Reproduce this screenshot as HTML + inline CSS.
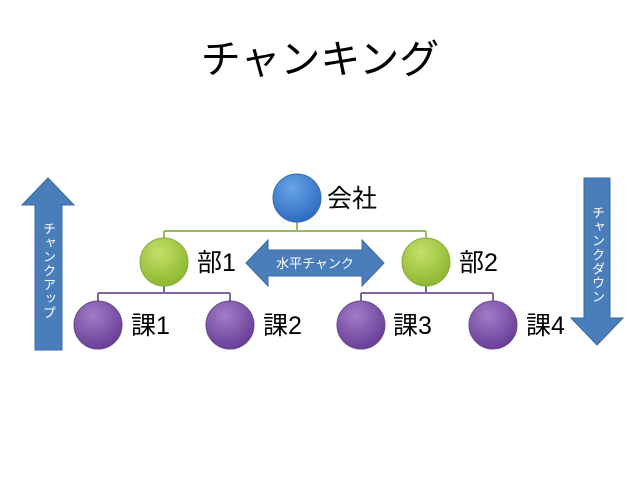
<!DOCTYPE html>
<html><head><meta charset="utf-8"><style>
body{margin:0;width:640px;height:480px;background:#fff;overflow:hidden;font-family:"Liberation Sans","Noto Sans CJK JP",sans-serif;position:relative;}
.v{position:absolute;writing-mode:vertical-rl;color:#fff;font-size:13px;line-height:14px;letter-spacing:1px;}
</style></head><body>
<svg width="640" height="480" xmlns="http://www.w3.org/2000/svg" style="position:absolute;left:0;top:0;font-family:'Liberation Sans','Noto Sans CJK JP',sans-serif">
<defs>
<radialGradient id="b" cx="0.4" cy="0.3" r="0.7"><stop offset="0" stop-color="#6aa4e6"/><stop offset="1" stop-color="#2d6cc0"/></radialGradient>
<radialGradient id="g" cx="0.4" cy="0.3" r="0.7"><stop offset="0" stop-color="#c4e06a"/><stop offset="1" stop-color="#8db830"/></radialGradient>
<radialGradient id="p" cx="0.4" cy="0.3" r="0.7"><stop offset="0" stop-color="#a27cc8"/><stop offset="1" stop-color="#6a3e98"/></radialGradient>
</defs>
<text x="320" y="73" font-size="40" text-anchor="middle" fill="#000">チャンキング</text>
<g fill="none" stroke-width="2">
<path d="M297 222V231M164 231H426M164 231V238M426 231V238" stroke="#9bbb59"/>
<path d="M164 286V293M98 293H230M98 293V301M230 293V301" stroke="#8064a2"/>
<path d="M426 286V293M361 293H493M361 293V301M493 293V301" stroke="#8064a2"/>
</g>
<circle cx="297" cy="198" r="24" fill="url(#b)" stroke="#3a6fb0"/>
<circle cx="164" cy="262" r="24" fill="url(#g)" stroke="#8aab40"/>
<circle cx="426" cy="262" r="24" fill="url(#g)" stroke="#8aab40"/>
<circle cx="98" cy="325" r="24" fill="url(#p)" stroke="#6a4a90"/>
<circle cx="230" cy="325" r="24" fill="url(#p)" stroke="#6a4a90"/>
<circle cx="361" cy="325" r="24" fill="url(#p)" stroke="#6a4a90"/>
<circle cx="493" cy="325" r="24" fill="url(#p)" stroke="#6a4a90"/>
<g font-size="25" fill="#000">
<text x="327" y="207">会社</text>
<text x="197" y="271">部1</text>
<text x="459" y="271">部2</text>
<text x="131" y="334">課1</text>
<text x="263" y="334">課2</text>
<text x="393" y="334">課3</text>
<text x="526" y="334">課4</text>
</g>
<g fill="#4a7ebb" stroke="#3a6aa0" stroke-width="1">
<path d="M48 178L74 205H62V350H35V205H22Z"/>
<path d="M584 178H610V318H623L597 345L571 318H584Z"/>
<path d="M246 263L268 240V250H362V240L384 263L362 286V276H268V286Z"/>
</g>
<text x="315" y="268" font-size="13" fill="#fff" text-anchor="middle">水平チャンク</text>
</svg>
<div class="v" style="left:41px;top:222px;">チャンクアップ</div>
<div class="v" style="left:590px;top:206px;">チャンクダウン</div>
</body></html>
